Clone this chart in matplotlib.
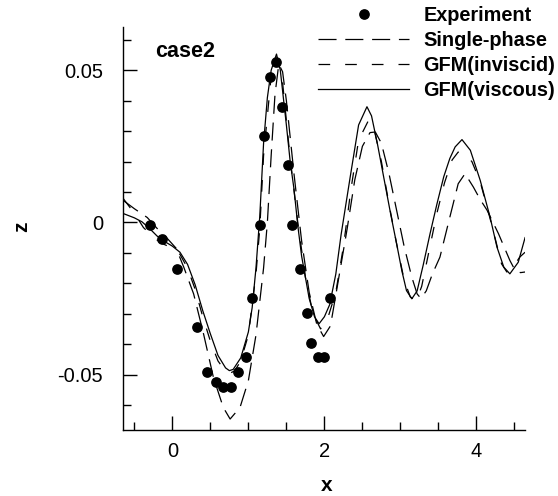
import matplotlib
matplotlib.use("Agg")
import matplotlib.pyplot as plt
from matplotlib.lines import Line2D
from matplotlib.ticker import FuncFormatter, MultipleLocator


# measured free-surface elevation (dots)
exp_x = [-0.30, -0.13, 0.06, 0.32, 0.46, 0.57, 0.67, 0.77, 0.86, 0.97, 1.045, 1.15,
         1.20, 1.285, 1.365, 1.44, 1.52, 1.57, 1.68, 1.77, 1.83, 1.91, 2.00, 2.07]
exp_z = [-0.0007, -0.0055, -0.0152, -0.0344, -0.0490, -0.0525, -0.0540, -0.0540,
         -0.0490, -0.0443, -0.0249, -0.0007, 0.0283, 0.0478, 0.0527, 0.0379, 0.0187,
         -0.0007, -0.0152, -0.0297, -0.0395, -0.0441, -0.0441, -0.0249]

# single-phase solver (long dash)
sp_x = [-0.645, -0.5, -0.33, -0.2, -0.08, 0.05, 0.15, 0.28, 0.41, 0.54, 0.67, 0.76,
        0.89, 1.0, 1.1, 1.2, 1.25, 1.3, 1.35, 1.4, 1.45, 1.5, 1.55, 1.6, 1.7, 1.8,
        1.9, 1.99, 2.08, 2.17, 2.3, 2.4, 2.5, 2.6, 2.67, 2.75, 2.85, 2.95, 3.05, 3.15,
        3.22, 3.27, 3.34, 3.42, 3.52, 3.65, 3.76, 3.85, 3.96, 4.05, 4.14, 4.29, 4.44,
        4.51, 4.58, 4.64]
sp_z = [0.0072, 0.0045, 0.0016, -0.0020, -0.0049, -0.0085, -0.0147, -0.0235, -0.0366,
        -0.0509, -0.0608, -0.0646, -0.0608, -0.0520, -0.0370, -0.0150, 0.0000, 0.0220,
        0.0420, 0.0520, 0.0495, 0.0400, 0.0280, 0.0160, -0.0060, -0.0230, -0.0335,
        -0.0375, -0.0340, -0.0210, -0.0020, 0.0140, 0.0250, 0.0295, 0.0297, 0.0260,
        0.0160, 0.0040, -0.0080, -0.0180, -0.0235, -0.0250, -0.0225, -0.0170, -0.0114,
        0.0017, 0.0127, 0.0160, 0.0116, 0.0075, 0.0040, -0.0037, -0.0125, -0.0158,
        -0.0165, -0.0163]

# GFM inviscid (short dash)
inv_x = [-0.645, -0.5, -0.38, -0.25, -0.16, 0.0, 0.1, 0.2, 0.3, 0.4, 0.5, 0.6, 0.7,
         0.76, 0.82, 0.9, 1.0, 1.1, 1.15, 1.2, 1.3, 1.38, 1.45, 1.55, 1.65, 1.75, 1.85,
         1.95, 2.05, 2.15, 2.25, 2.35, 2.45, 2.58, 2.65, 2.75, 2.85, 2.95, 3.05, 3.13,
         3.21, 3.28, 3.38, 3.48, 3.58, 3.68, 3.76, 3.85, 3.94, 4.05, 4.14, 4.22, 4.33,
         4.40, 4.5, 4.57, 4.64]
inv_z = [0.0078, 0.0030, -0.0017, -0.0048, -0.0066, -0.0085, -0.0105, -0.0150, -0.0220,
         -0.0310, -0.0390, -0.0455, -0.0490, -0.0495, -0.0488, -0.0455, -0.0370, -0.0170,
         -0.0020, 0.0220, 0.0480, 0.0540, 0.0460, 0.0210, 0.0000, -0.0180, -0.0300,
         -0.0350, -0.0310, -0.0230, -0.0080, 0.0110, 0.0270, 0.0335, 0.0310, 0.0200,
         0.0060, -0.0070, -0.0190, -0.0245, -0.0257, -0.0210, -0.0090, 0.0030, 0.0130,
         0.0205, 0.0231, 0.0222, 0.0200, 0.0133, 0.0050, -0.0026, -0.0136, -0.0163,
         -0.0140, -0.0114, -0.0098]

# GFM viscous (solid)
visc_x = [-0.645, -0.5, -0.4, -0.3, -0.2, -0.1, 0.0, 0.1, 0.2, 0.3, 0.4, 0.5, 0.6, 0.7,
          0.75, 0.8, 0.9, 1.0, 1.05, 1.1, 1.15, 1.2, 1.25, 1.3, 1.37, 1.42, 1.5, 1.55,
          1.6, 1.65, 1.7, 1.8, 1.87, 1.93, 2.0, 2.07, 2.15, 2.22, 2.34, 2.45, 2.56, 2.62,
          2.7, 2.78, 2.87, 2.95, 3.02, 3.08, 3.15, 3.22, 3.3, 3.39, 3.48, 3.57, 3.65,
          3.72, 3.81, 3.92, 4.05, 4.18, 4.27, 4.36, 4.44, 4.55, 4.64]
visc_z = [0.0029, 0.0015, 0.0002, -0.0020, -0.0045, -0.0063, -0.0078, -0.0098, -0.0138,
          -0.0205, -0.0290, -0.0366, -0.0437, -0.0478, -0.0487, -0.0483, -0.0445, -0.0360,
          -0.0280, -0.0150, 0.0020, 0.0260, 0.0410, 0.0500, 0.0553, 0.0500, 0.0320,
          0.0200, 0.0110, -0.0010, -0.0110, -0.0250, -0.0310, -0.0333, -0.0310, -0.0270,
          -0.0170, -0.0040, 0.0150, 0.0320, 0.0380, 0.0350, 0.0255, 0.0149, 0.0030,
          -0.0070, -0.0160, -0.0224, -0.0251, -0.0225, -0.0140, -0.0037, 0.0060, 0.0150,
          0.0210, 0.0248, 0.0272, 0.0237, 0.0138, 0.0017, -0.0081, -0.0147, -0.0169,
          -0.0131, -0.0050]

labels = ["Experiment", "Single-phase", "GFM(inviscid)", "GFM(viscous)"]

XLIM = (-0.645, 4.64)
YLIM = (-0.0682, 0.0642)


def tick_label(value, _pos):
    if abs(value) < 1e-12:
        return "0"
    return f"{value:g}"


def main():
    plt.rcParams["font.family"] = ["Liberation Sans", "DejaVu Sans"]
    plt.rcParams["lines.scale_dashes"] = False

    fig = plt.figure(figsize=(5.58, 4.96), dpi=100)
    ax = fig.add_axes([0.221, 0.1331, 0.720, 0.8125])

    lw = 0.9
    sp_dash = (13, 6.3)
    inv_dash = (8.4, 10.8)

    ax.plot(sp_x, sp_z, color="black", lw=lw, dashes=sp_dash)
    ax.plot(inv_x, inv_z, color="black", lw=lw, dashes=inv_dash)
    ax.plot(visc_x, visc_z, color="black", lw=lw)
    ax.plot(exp_x, exp_z, "o", color="black", markersize=6.7, linestyle="none")

    ax.set_xlim(*XLIM)
    ax.set_ylim(*YLIM)

    for side in ("top", "right"):
        ax.spines[side].set_visible(False)
    for side in ("left", "bottom"):
        ax.spines[side].set_linewidth(1.0)

    ax.xaxis.set_major_locator(MultipleLocator(2))
    ax.xaxis.set_minor_locator(MultipleLocator(0.5))
    ax.yaxis.set_major_locator(MultipleLocator(0.05))
    ax.yaxis.set_minor_locator(MultipleLocator(0.01))
    ax.yaxis.set_major_formatter(FuncFormatter(tick_label))
    ax.xaxis.set_major_formatter(FuncFormatter(tick_label))

    ax.tick_params(which="both", direction="in", width=1.0, labelsize=14.5)
    ax.tick_params(which="major", length=10)
    ax.tick_params(which="minor", length=6)
    ax.tick_params(axis="y", which="both", pad=14.5)
    ax.tick_params(axis="x", which="both", pad=9)

    ax.set_xlabel("x", fontsize=15, fontweight="bold", va="center")
    ax.set_ylabel("z", fontsize=15, fontweight="bold", va="center")
    ax.xaxis.set_label_coords(0.507, -0.139)
    ax.yaxis.set_label_coords(-0.252, 0.504)

    ax.text(0.079, 0.938, "case2", transform=ax.transAxes, fontsize=15.5,
            fontweight="bold", ha="left", va="center")

    handles = [
        Line2D([], [], marker="o", color="black", markersize=6.7, linestyle="none"),
        Line2D([], [], color="black", lw=lw, dashes=sp_dash),
        Line2D([], [], color="black", lw=lw, dashes=inv_dash),
        Line2D([], [], color="black", lw=lw),
    ]
    fig.legend(handles, labels, loc="upper right", bbox_to_anchor=(0.995, 0.988),
               frameon=False, borderpad=0, borderaxespad=0,
               prop={"weight": "bold", "size": 14.3},
               handlelength=4.6, handletextpad=0.7, labelspacing=0.31)

    fig.savefig("out.png", dpi=100)
    plt.close(fig)


if __name__ == "__main__":
    main()
